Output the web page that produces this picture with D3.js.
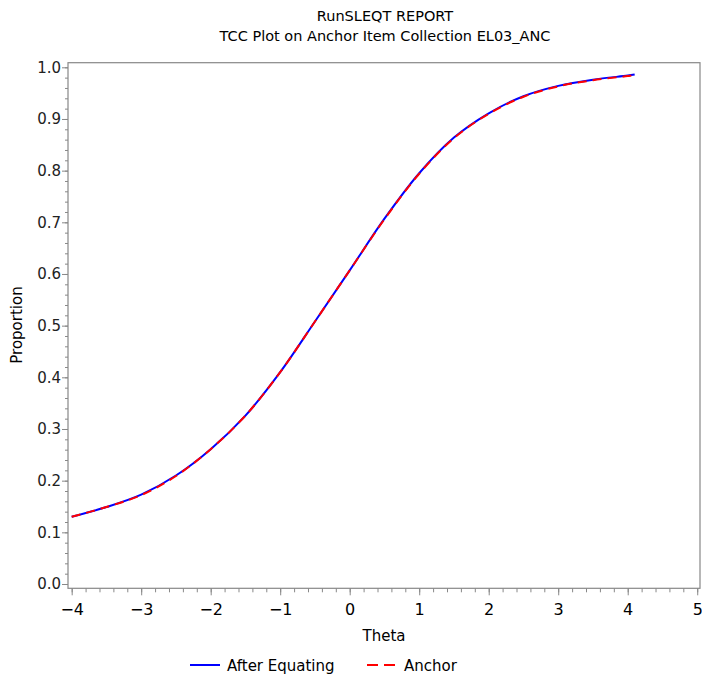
<!DOCTYPE html>
<html><head><meta charset="utf-8">
<script src="https://cdn.jsdelivr.net/npm/d3@7"></script>
<style>body{margin:0;background:#fff}svg{display:block}text{font-family:"DejaVu Sans",sans-serif}</style>
</head><body><svg id="c" width="702" height="681"></svg>
<script>
const theta = [-4,-3.5,-3,-2.5,-2,-1.5,-1,-0.5,0,0.5,1,1.5,2,2.5,3,3.5,4,4.1];
const afterEquating = [0.130,0.149,0.173,0.210,0.261,0.326,0.410,0.508,0.607,0.707,0.795,0.864,0.911,0.944,0.964,0.976,0.984,0.986];
const anchor = [0.130,0.149,0.172,0.209,0.261,0.326,0.410,0.508,0.607,0.706,0.794,0.863,0.910,0.943,0.963,0.975,0.983,0.985];
const xTicks = [-4,-3,-2,-1,0,1,2,3,4,5];
const yTicks = [0,0.1,0.2,0.3,0.4,0.5,0.6,0.7,0.8,0.9,1.0];
const titles = ["RunSLEQT REPORT","TCC Plot on Anchor Item Collection EL03_ANC"];
const seriesNames = ["After Equating","Anchor"];

const svg = d3.select("#c");
const L=68,R=700,T=62.7,B=588.3;
const x = d3.scaleLinear().domain([-4.053,5.04]).range([L,R]);
const y = d3.scaleLinear().domain([-0.0083,1.0089]).range([B,T]);

svg.selectAll("text.title").data(titles).join("text")
  .attr("x",385).attr("y",(d,i)=>21+i*20).attr("text-anchor","middle")
  .attr("font-size",14.5).attr("fill","#000").text(d=>d);

svg.append("rect").attr("x",L).attr("y",T).attr("width",R-L).attr("height",B-T)
  .attr("fill","none").attr("stroke","#888").attr("stroke-width",1.2);

const xMinor = d3.range(-4,5.001,0.2).map(v=>+v.toFixed(2));
const gx = svg.append("g").attr("transform",`translate(0,${B})`);
gx.call(d3.axisBottom(x).tickValues(xMinor).tickSize(4).tickFormat(""))
  .call(g=>g.select(".domain").remove())
  .call(g=>g.selectAll("line").attr("stroke","#888"));
gx.append("g").call(d3.axisBottom(x).tickValues(xTicks).tickSize(7).tickFormat(d=>d<0?"\u2212"+(-d):d))
  .call(g=>g.select(".domain").remove())
  .call(g=>g.selectAll("line").attr("stroke","#888"))
  .call(g=>g.selectAll("text").attr("font-size",16).attr("fill","#000").attr("dy","1.05em").attr("font-family","DejaVu Sans"));

const yMinor = d3.range(0,1.0001,0.02).map(v=>+v.toFixed(2));
const gy = svg.append("g").attr("transform",`translate(${L},0)`);
gy.call(d3.axisLeft(y).tickValues(yMinor).tickSize(3).tickFormat(""))
  .call(g=>g.select(".domain").remove())
  .call(g=>g.selectAll("line").attr("stroke","#888"));
gy.append("g").call(d3.axisLeft(y).tickValues(yTicks).tickSize(6).tickFormat(d3.format(".1f")))
  .call(g=>g.select(".domain").remove())
  .call(g=>g.selectAll("line").attr("stroke","#888"))
  .call(g=>g.selectAll("text").attr("font-size",15).attr("fill","#222").attr("x",-7).attr("font-family","DejaVu Sans"));

svg.append("text").attr("x",384).attr("y",641).attr("text-anchor","middle")
  .attr("font-size",15).attr("fill","#000").text("Theta");
svg.append("text").attr("transform","translate(22,325) rotate(-90)").attr("text-anchor","middle")
  .attr("font-size",15).attr("fill","#000").text("Proportion");

const line = d3.line().x((d,i)=>x(theta[i])).y(d=>y(d)).curve(d3.curveCatmullRom.alpha(0.5));
svg.append("path").datum(afterEquating).attr("d",line).attr("fill","none")
  .attr("stroke","#0000ff").attr("stroke-width",2);
svg.append("path").datum(anchor).attr("d",line).attr("fill","none")
  .attr("stroke","#ff0000").attr("stroke-width",2).attr("stroke-dasharray","9,6");

const lg = svg.append("g");
const legendItems = [{name:seriesNames[0],color:"#0000ff",dash:null,x0:190},{name:seriesNames[1],color:"#ff0000",dash:"11,6",x0:367}];
legendItems.forEach(it=>{
  lg.append("line").attr("x1",it.x0).attr("x2",it.x0+30).attr("y1",665).attr("y2",665)
    .attr("stroke",it.color).attr("stroke-width",2).attr("stroke-dasharray",it.dash);
  lg.append("text").attr("x",it.x0+37).attr("y",671).attr("font-size",15).attr("fill","#000").text(it.name);
});
</script></body></html>
